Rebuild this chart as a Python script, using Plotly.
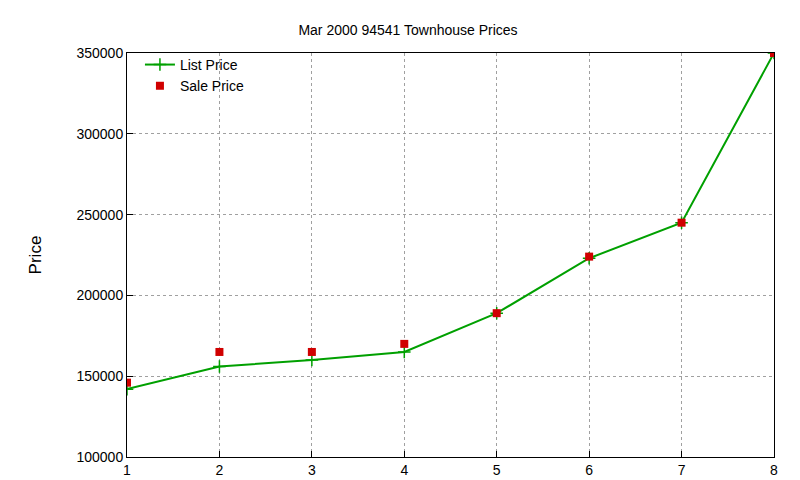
import plotly.graph_objects as go

x = [1, 2, 3, 4, 5, 6, 7, 8]
list_price = [142000, 156000, 160000, 165000, 189000, 223000, 245000, 350000]
sale_price = [146000, 165000, 165000, 170000, 189000, 224000, 245000, 350000]

fig = go.Figure()
fig.add_trace(go.Scatter(x=x, y=list_price, name="List Price", mode="lines+markers",
                         line=dict(color="#00a000", width=2),
                         marker=dict(symbol="cross-thin", size=9, line=dict(color="#00a000", width=1.5))))
fig.add_trace(go.Scatter(x=x, y=sale_price, name="Sale Price", mode="markers",
                         marker=dict(symbol="square", size=8, color="#d00000")))

axis = dict(showline=True, linecolor="black", mirror=True, ticks="inside", ticklen=6,
            tickcolor="black", showgrid=True, gridcolor="#a0a0a0", griddash="dot",
            zeroline=False, tickfont=dict(size=14, color="black"), automargin=False)
fig.update_layout(
    width=800, height=480, plot_bgcolor="white", paper_bgcolor="white",
    font=dict(family="Liberation Sans, Arial, sans-serif", size=14, color="black"),
    margin=dict(l=119, r=34, t=45, b=31),
    title=dict(text="Mar 2000 94541 Townhouse Prices", x=0.5, xanchor="center", y=0.955, yanchor="middle",
               font=dict(size=14)),
    xaxis=dict(axis, range=[1, 8], dtick=1),
    yaxis=dict(axis, range=[100000, 350000], dtick=50000, tickformat="d",
               title=dict(text="Price", standoff=30)),
    legend=dict(x=0.02, y=1.01, xanchor="left", yanchor="top", bgcolor="rgba(0,0,0,0)",
                font=dict(size=14), tracegroupgap=0),
)
fig.write_html("out.html")
